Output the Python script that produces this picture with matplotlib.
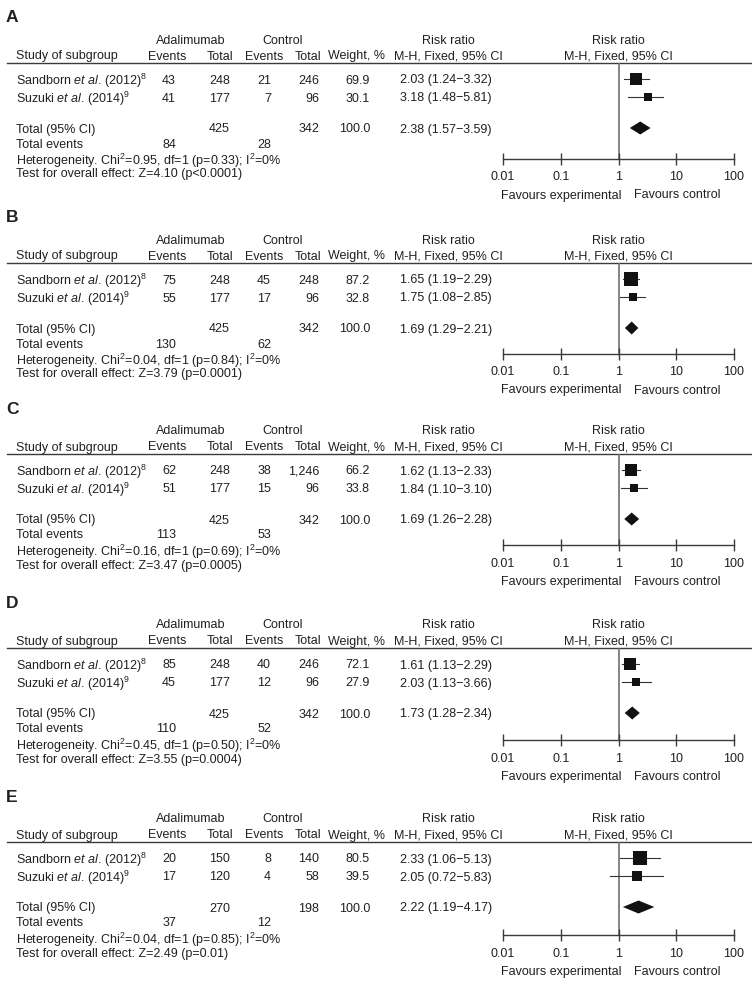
import matplotlib
matplotlib.use('Agg')
import matplotlib.pyplot as plt
from matplotlib import font_manager
from matplotlib.ticker import NullLocator

# the reference uses a slightly condensed Helvetica; use the narrow face when it exists
installed = {f.name for f in font_manager.fontManager.ttflist}
if 'Liberation Sans Narrow' in installed:
    body_font = 'Liberation Sans Narrow'
    fs = 10.0
else:
    body_font = 'Liberation Sans'
    fs = 9.0

plt.rcParams['font.family'] = [body_font, 'DejaVu Sans']
plt.rcParams['mathtext.fontset'] = 'custom'
plt.rcParams['mathtext.rm'] = body_font
plt.rcParams['mathtext.it'] = body_font + ':italic'
plt.rcParams['mathtext.bf'] = body_font + ':bold'

# data, one entry per panel
panels = ['A', 'B', 'C', 'D', 'E']
studies = ['Sandborn $\\mathit{et\\ al}$. (2012)$^{\\mathrm{8}}$',
           'Suzuki $\\mathit{et\\ al}$. (2014)$^{\\mathrm{9}}$']
adal_events = [[43, 41], [75, 55], [62, 51], [85, 45], [20, 17]]
adal_total = [[248, 177], [248, 177], [248, 177], [248, 177], [150, 120]]
ctrl_events = [[21, 7], [45, 17], [38, 15], [40, 12], [8, 4]]
ctrl_total = [[246, 96], [248, 96], [1246, 96], [246, 96], [140, 58]]
weights = [[69.9, 30.1], [87.2, 32.8], [66.2, 33.8], [72.1, 27.9], [80.5, 39.5]]
rr = [[2.03, 3.18], [1.65, 1.75], [1.62, 1.84], [1.61, 2.03], [2.33, 2.05]]
rr_lo = [[1.24, 1.48], [1.19, 1.08], [1.13, 1.10], [1.13, 1.13], [1.06, 0.72]]
rr_hi = [[3.32, 5.81], [2.29, 2.85], [2.33, 3.10], [2.29, 3.66], [5.13, 5.83]]
pooled = [2.38, 1.69, 1.69, 1.73, 2.22]
pooled_lo = [1.57, 1.29, 1.26, 1.28, 1.19]
pooled_hi = [3.59, 2.21, 2.28, 2.34, 4.17]
sum_adal_total = [425, 425, 425, 425, 270]
sum_ctrl_total = [342, 342, 342, 342, 198]
sum_adal_events = [84, 130, 113, 110, 37]
sum_ctrl_events = [28, 62, 53, 52, 12]
chi2 = ['0.95', '0.04', '0.16', '0.45', '0.04']
chi2_p = ['0.33', '0.84', '0.69', '0.50', '0.85']
z_val = ['4.10', '3.79', '3.47', '3.55', '2.49']
z_p = ['<0.0001', '=0.0001', '=0.0005', '=0.0004', '=0.01']
ticks = [0.01, 0.1, 1, 10, 100]
tick_labels = ['0.01', '0.1', '1', '10', '100']

# layout in pixels
W, H = 752, 983
header_y = [63, 263, 454, 648, 842]
axis_y = [158.5, 353.5, 545, 740, 935]
tc = '#231f20'
MINUS = '\u2212'
BASE = 4.5  # from visual centre of the caps to the baseline

fig = plt.figure(figsize=(W / 100, H / 100), dpi=100)
tab = fig.add_axes([0, 0, 1, 1])
tab.set_xlim(0, W)
tab.set_ylim(H, 0)
tab.axis('off')


def txt(x, y, s, ha='left', **kw):
    # mathtext strings sit a little high, nudge them down
    dy = 1.5 if '$' in s else 0
    tab.text(x, y + BASE + dy, s, ha=ha, va='baseline', fontsize=fs, color=tc, **kw)


for i, letter in enumerate(panels):
    hl = header_y[i]
    axl = axis_y[i]
    rows = [hl + 16, hl + 34]
    trow = hl + 65

    tab.text(6, hl - 45, letter, ha='left', va='center', fontsize=12.5,
             fontweight='bold', color=tc, family='Liberation Sans')
    txt(191, hl - 24, 'Adalimumab', ha='center')
    txt(283, hl - 24, 'Control', ha='center')
    txt(448, hl - 24, 'Risk ratio', ha='center')
    txt(618, hl - 24, 'Risk ratio', ha='center')
    txt(16, hl - 8, 'Study of subgroup')
    txt(167, hl - 8, 'Events', ha='center')
    txt(220, hl - 8, 'Total', ha='center')
    txt(264, hl - 8, 'Events', ha='center')
    txt(308, hl - 8, 'Total', ha='center')
    txt(356, hl - 8, 'Weight, %', ha='center')
    txt(448, hl - 8, 'M-H, Fixed, 95% CI', ha='center')
    txt(618, hl - 8, 'M-H, Fixed, 95% CI', ha='center')
    tab.plot([7, W], [hl, hl], color='#3a3a3a', lw=1.0)

    for j in range(2):
        y = rows[j]
        txt(16, y, studies[j])
        txt(176, y, str(adal_events[i][j]), ha='right')
        txt(230, y, str(adal_total[i][j]), ha='right')
        txt(271, y, str(ctrl_events[i][j]), ha='right')
        txt(319, y, f'{ctrl_total[i][j]:,}', ha='right')
        txt(370, y, f'{weights[i][j]:.1f}', ha='right')
        txt(492, y, f'{rr[i][j]:.2f} ({rr_lo[i][j]:.2f}{MINUS}{rr_hi[i][j]:.2f})', ha='right')

    txt(16, trow, 'Total (95% CI)')
    txt(230, trow, str(sum_adal_total[i]), ha='right')
    txt(319, trow, str(sum_ctrl_total[i]), ha='right')
    txt(370, trow, '100.0', ha='right')
    txt(492, trow, f'{pooled[i]:.2f} ({pooled_lo[i]:.2f}{MINUS}{pooled_hi[i]:.2f})', ha='right')
    txt(16, hl + 80, 'Total events')
    txt(176, hl + 80, str(sum_adal_events[i]), ha='right')
    txt(271, hl + 80, str(sum_ctrl_events[i]), ha='right')
    txt(16, hl + 96, f'Heterogeneity. Chi$^{{\\mathrm{{2}}}}$={chi2[i]}, df=1 (p={chi2_p[i]}); '
                     f'I$^{{\\mathrm{{2}}}}$=0%')
    txt(16, hl + 110, f'Test for overall effect: Z={z_val[i]} (p{z_p[i]})')

    # forest plot
    ax = fig.add_axes([503 / W, 1 - axl / H, (734 - 503) / W, (axl - hl) / H])
    ax.patch.set_alpha(0)
    ax.set_xscale('log')
    ax.set_xlim(0.01, 100)
    ax.set_ylim(axl, hl)
    for s in ['top', 'left', 'right']:
        ax.spines[s].set_visible(False)
    ax.spines['bottom'].set_color('#3a3a3a')
    ax.spines['bottom'].set_linewidth(1.0)
    ax.set_xticks(ticks)
    ax.set_xticklabels(tick_labels)
    ax.xaxis.set_minor_locator(NullLocator())
    ax.tick_params(axis='x', direction='inout', length=8.6, width=1.0,
                   color='#3a3a3a', pad=5, labelsize=fs, labelcolor=tc)
    ax.set_yticks([])
    ax.axvline(1, color='#707070', lw=1.2, zorder=1)

    for j in range(2):
        y = rows[j]
        ax.plot([rr_lo[i][j], rr_hi[i][j]], [y, y], color='#333333', lw=0.8, zorder=2)
        side = 1.5 * weights[i][j] ** 0.5
        ax.plot(rr[i][j], y, marker='s', ms=side * 0.72, color='#111111',
                mew=0, zorder=3)
    ax.fill([pooled_lo[i], pooled[i], pooled_hi[i], pooled[i]],
            [trow, trow - 6.5, trow, trow + 6.5], color='#111111', lw=0, zorder=3)

    txt(561, axl + 35.5, 'Favours experimental', ha='center')
    txt(677, axl + 35.5, 'Favours control', ha='center')

fig.savefig('out.png', dpi=100)
